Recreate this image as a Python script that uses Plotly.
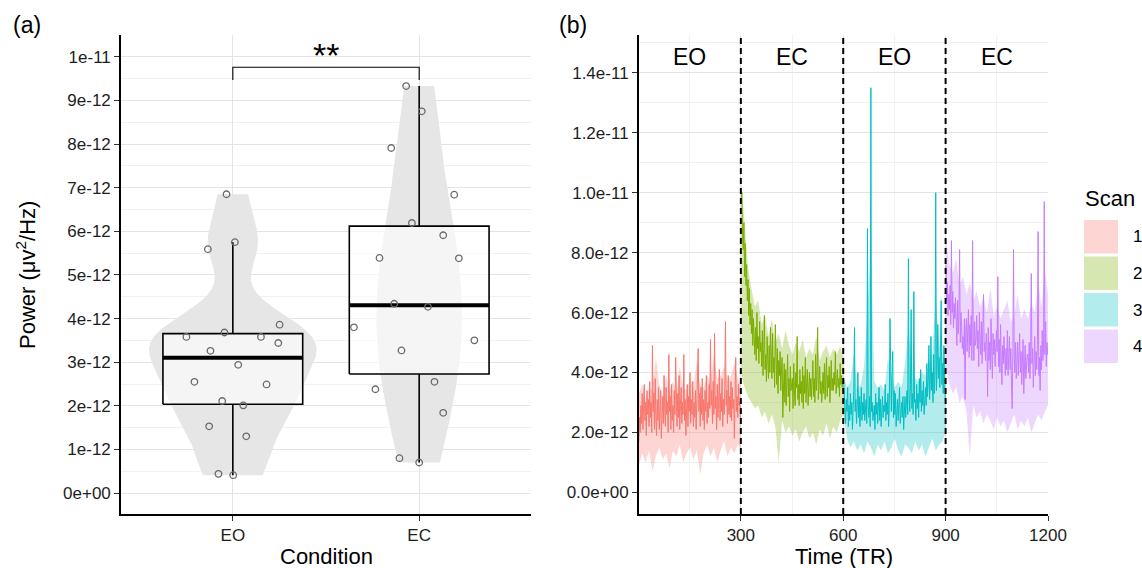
import numpy as np
import plotly.graph_objects as go

W, H = 1142, 568
E12 = 1e-12
FONT = "Liberation Sans, Arial, Helvetica, sans-serif"

# ---------------- Panel (a) data (power in units of 1e-12 uV^2/Hz) ----------------
conditions = ["EO", "EC"]
eo_power = [6.85, 5.75, 5.59, 3.86, 3.68, 3.58, 3.58, 3.44, 3.26, 2.94, 2.55, 2.49,
            2.11, 2.01, 1.53, 1.30, 0.44, 0.41]
eo_jitter = [-0.034, 0.011, -0.134, 0.251, -0.045, -0.249, 0.151, 0.244, -0.12, 0.029,
             -0.206, 0.181, -0.057, 0.056, -0.127, 0.072, -0.077, 0.002]
ec_power = [9.33, 8.75, 7.91, 6.84, 6.19, 5.91, 5.39, 5.38, 4.34, 4.27, 3.80, 3.50,
            3.27, 2.38, 2.55, 1.84, 0.80, 0.70]
ec_jitter = [-0.07, 0.014, -0.15, 0.188, -0.039, 0.129, -0.213, 0.213, -0.134, 0.047,
             -0.35, 0.296, -0.095, -0.235, 0.082, 0.129, -0.106, 0.0]
sig_label = "**"
bracket_y = 9.76
bracket_tip = 9.47
a_yticks = [0, 1, 2, 3, 4, 5, 6, 7, 8, 9, 10]
a_yticktext = ["0e+00", "1e-12", "2e-12", "3e-12", "4e-12", "5e-12", "6e-12",
               "7e-12", "8e-12", "9e-12", "1e-11"]

# ---------------- Panel (b) data (mean power per TR, units of 1e-12) ----------------
scans = ["1", "2", "3", "4"]
scan_colors = ["#F8766D", "#7CAE00", "#00BFC4", "#C77CFF"]
scan_conditions = ["EO", "EC", "EO", "EC"]
scan_bounds = [300, 600, 900]
tr_line = np.arange(1, 1201, 2)                 # sampled TRs for the mean lines
rib_offsets = list(range(0, 300, 10)) + [299]   # sampled TRs for the ribbons

scan1_mean = [1.7, 2.5, 2.0, 2.9, 2.3, 3.3, 2.1, 2.8, 3.6, 2.4, 3.0, 1.9, 3.4, 2.6, 3.1,
              2.2, 3.7, 2.5, 3.0, 2.0, 4.9, 2.7, 3.3, 2.1, 3.8, 2.5, 1.9, 3.1, 2.4, 3.5,
              2.1, 2.8, 3.4, 1.8, 2.6, 3.2, 2.3, 3.9, 2.7, 2.2, 3.5, 2.6, 3.0, 2.0, 4.6,
              2.7, 3.2, 2.1, 3.6, 2.4, 2.9, 2.0, 3.4, 2.6, 4.5, 2.8, 2.2, 3.3, 2.5, 3.9,
              2.1, 2.9, 3.5, 2.3, 3.0, 2.6, 4.6, 2.4, 3.1, 1.9, 2.8, 3.6, 2.2, 3.2, 2.7,
              4.0, 2.3, 3.1, 2.6, 3.7, 2.2, 3.0, 2.5, 3.4, 2.1, 2.9, 3.6, 4.8, 2.7, 3.3,
              2.2, 3.5, 2.6, 3.8, 2.4, 3.1, 2.1, 3.4, 2.7, 3.9, 2.3, 3.0, 2.5, 3.6, 2.8,
              5.1, 2.9, 3.4, 2.3, 3.7, 2.6, 5.3, 2.8, 3.2, 2.1, 3.6, 2.5, 3.0, 4.1, 2.4,
              3.3, 2.7, 3.8, 2.2, 3.1, 2.6, 3.5, 5.7, 2.9, 3.4, 2.3, 3.9, 2.6, 3.2, 2.5,
              3.7, 2.4, 3.5, 2.8, 3.1, 1.8, 3.4, 4.5, 2.7, 3.2, 2.5, 3.6, 2.9, 3.0, 2.4]
scan2_mean = [9.8, 10.0, 8.6, 8.1, 9.0, 7.2, 8.3, 6.9, 7.6, 6.4, 7.1, 5.9, 6.8, 5.6, 6.3,
              5.3, 6.1, 4.9, 5.8, 5.1, 4.6, 5.5, 4.4, 6.0, 4.8, 5.2, 4.3, 5.7, 4.7, 5.0,
              4.2, 5.4, 3.9, 4.8, 5.9, 4.1, 4.6, 3.7, 5.2, 4.4, 3.8, 4.9, 4.0, 5.5, 4.3,
              3.8, 5.3, 4.0, 4.5, 3.5, 5.6, 4.2, 3.6, 4.8, 3.3, 4.4, 3.9, 4.7, 3.4, 4.1,
              4.5, 2.5, 3.9, 4.3, 3.0, 4.1, 2.9, 3.7, 4.6, 3.2, 3.8, 2.7, 4.2, 3.4, 3.6,
              3.8, 2.8, 4.3, 3.4, 2.9, 4.0, 3.5, 5.2, 3.1, 3.6, 2.9, 4.1, 3.3, 3.7, 3.0,
              4.2, 2.8, 3.9, 3.3, 4.5, 3.0, 3.7, 4.1, 2.9, 3.5, 4.0, 3.2, 3.8, 3.1, 4.3,
              4.4, 3.2, 3.8, 3.0, 4.6, 3.4, 3.9, 5.5, 3.1, 3.6, 4.2, 3.3, 3.7, 3.0, 4.0,
              4.0, 3.3, 4.3, 3.1, 3.8, 4.5, 3.2, 3.9, 3.5, 4.2, 3.0, 3.7, 4.4, 3.4, 3.8,
              3.4, 4.0, 3.6, 4.7, 3.3, 3.9, 4.1, 3.5, 3.8, 3.2, 4.3, 3.6, 3.9, 3.5, 3.7]
scan3_mean = [3.8, 3.2, 2.6, 2.3, 3.1, 2.7, 3.5, 2.2, 2.9, 2.4, 3.3, 2.6, 3.0, 2.1, 2.8,
              3.4, 5.5, 2.7, 3.1, 2.3, 2.9, 4.0, 2.5, 3.2, 2.2, 2.8, 3.5, 2.4, 3.0, 2.6,
              3.3, 2.4, 2.8, 3.1, 2.3, 8.8, 2.9, 2.5, 3.2, 2.2, 13.5, 2.7, 3.0, 2.4, 2.8,
              2.9, 2.1, 3.3, 2.6, 3.0, 2.3, 2.8, 3.5, 2.4, 3.1, 2.2, 2.7, 3.2, 2.5, 2.9,
              2.7, 3.6, 2.4, 3.0, 2.6, 3.3, 2.2, 2.9, 5.8, 3.2, 2.7, 3.9, 4.7, 2.5, 3.4,
              2.6, 3.3, 2.2, 2.8, 3.1, 2.4, 2.9, 3.5, 2.3, 2.7, 3.0, 2.5, 3.2, 2.1, 2.8,
              3.2, 2.5, 2.9, 3.4, 2.6, 7.8, 3.1, 2.7, 3.6, 6.1, 2.8, 3.3, 2.6, 6.7, 3.0,
              3.1, 2.4, 3.6, 2.8, 3.3, 2.5, 3.8, 3.0, 4.1, 2.7, 3.4, 2.9, 3.7, 2.6, 3.2,
              3.5, 2.9, 4.3, 3.2, 3.7, 4.9, 3.1, 3.6, 5.2, 3.4, 4.0, 3.0, 4.6, 3.3, 3.9,
              10.0, 3.4, 4.2, 5.6, 3.8, 4.5, 3.5, 4.8, 6.4, 3.6, 4.3, 3.3, 4.9, 3.6, 3.1]
scan4_mean = [7.6, 6.4, 7.0, 5.9, 6.6, 6.1, 6.9, 5.6, 8.4, 6.0, 6.7, 5.5, 6.3, 5.8, 6.5,
              5.7, 4.9, 6.4, 5.3, 5.9, 8.1, 5.0, 6.0, 5.5, 4.8, 5.2, 4.6, 5.8, 3.1, 5.4,
              5.8, 4.7, 5.3, 6.1, 4.5, 5.6, 4.9, 5.9, 4.4, 8.4, 5.2, 4.4, 5.7, 4.9, 5.1,
              5.9, 4.8, 5.4, 4.2, 6.0, 5.1, 4.6, 5.7, 4.3, 5.5, 6.6, 4.7, 5.0, 4.4, 5.3,
              4.9, 3.2, 5.5, 4.4, 5.0, 4.1, 5.8, 4.5, 3.8, 5.3, 4.6, 5.1, 4.2, 4.8, 5.4,
              4.7, 7.2, 4.2, 5.1, 4.0, 5.6, 4.4, 3.6, 4.9, 4.3, 5.2, 4.5, 3.9, 4.8, 4.1,
              5.4, 3.9, 4.6, 5.2, 4.1, 4.8, 3.7, 2.8, 4.6, 8.1, 4.5, 4.0, 5.0, 3.8, 4.4,
              5.0, 3.9, 4.4, 5.3, 4.0, 4.7, 3.6, 4.2, 5.1, 3.3, 4.5, 4.9, 3.8, 4.3, 4.6,
              4.6, 4.0, 5.0, 3.8, 4.5, 7.3, 4.3, 4.8, 3.5, 4.4, 5.2, 3.9, 4.7, 4.1, 4.9,
              8.7, 3.9, 4.5, 3.4, 4.9, 4.1, 5.4, 4.4, 4.8, 9.7, 4.6, 5.7, 4.2, 5.0, 4.6]

scan1_lower = [0.9, 1.3, 1.0, 1.4, 0.7, 1.2, 1.5, 1.1, 1.3, 0.8, 1.4, 1.2, 1.6, 1.0, 1.3, 1.5,
               1.1, 1.4, 0.6, 1.3, 1.6, 1.2, 1.5, 1.0, 1.4, 1.7, 1.2, 1.5, 1.3, 1.6, 1.4]
scan1_upper = [3.3, 3.6, 3.1, 3.5, 3.4, 4.5, 3.6, 3.2, 3.9, 3.4, 3.7, 3.3, 4.2, 3.5, 3.4, 3.8,
               3.5, 4.4, 3.6, 3.5, 3.9, 3.7, 4.6, 3.8, 3.9, 4.2, 3.7, 3.9, 4.3, 3.8, 3.6]
scan2_lower = [3.9, 3.5, 3.2, 3.0, 2.8, 2.9, 2.5, 2.7, 2.3, 2.6, 2.2, 1.0, 2.4, 2.0, 2.2, 1.9,
               2.1, 1.7, 2.0, 2.2, 1.8, 2.0, 1.6, 2.1, 1.9, 2.3, 1.8, 2.2, 2.0, 2.4, 2.6]
scan2_upper = [10.5, 9.0, 7.5, 6.8, 6.2, 6.4, 5.6, 5.9, 5.2, 5.8, 5.0, 5.3, 4.8, 5.4, 4.9, 4.6,
               5.0, 4.7, 5.1, 4.5, 4.8, 4.6, 5.2, 4.4, 4.7, 4.9, 4.5, 4.8, 4.6, 4.9, 4.5]
scan3_lower = [2.6, 1.8, 1.5, 1.7, 1.4, 1.6, 1.3, 1.7, 1.5, 1.2, 1.6, 1.4, 1.7, 1.3, 1.5, 1.8,
               1.4, 1.2, 1.6, 1.5, 1.3, 1.7, 1.4, 1.6, 1.2, 1.5, 1.8, 1.4, 1.6, 1.7, 2.0]
scan3_upper = [3.9, 3.5, 3.7, 4.6, 3.4, 3.6, 4.2, 6.0, 8.5, 3.7, 3.5, 3.6, 3.4, 4.5, 3.9, 3.5,
               3.7, 3.5, 4.3, 5.5, 4.2, 3.8, 3.7, 4.0, 3.9, 4.3, 4.6, 6.5, 5.0, 4.6, 4.2]
scan4_lower = [4.2, 3.6, 3.3, 3.5, 3.0, 3.2, 2.7, 1.2, 2.9, 2.5, 2.7, 2.3, 2.6, 2.4, 2.1, 2.5,
               2.2, 2.4, 2.0, 2.3, 2.6, 2.1, 2.4, 2.2, 2.5, 2.0, 2.3, 2.6, 2.4, 2.7, 2.9]
scan4_upper = [8.5, 7.6, 7.3, 7.8, 6.9, 7.2, 6.6, 7.0, 6.4, 6.7, 6.2, 6.5, 6.0, 6.8, 5.9, 6.2,
               5.8, 6.1, 6.4, 5.7, 5.9, 6.6, 5.8, 6.1, 5.8, 6.3, 6.0, 7.0, 6.2, 7.4, 6.6]

b_yticks = [0, 2, 4, 6, 8, 10, 12, 14]
b_yticktext = ["0.0e+00", "2.0e-12", "4.0e-12", "6.0e-12", "8.0e-12", "1.0e-11", "1.2e-11", "1.4e-11"]
b_xticks = [300, 600, 900, 1200]

means = [scan1_mean, scan2_mean, scan3_mean, scan4_mean]
lowers = [scan1_lower, scan2_lower, scan3_lower, scan4_lower]
uppers = [scan1_upper, scan2_upper, scan3_upper, scan4_upper]
NPS = len(scan1_mean)  # samples per scan

VIOLIN_W = 0.9
BOX_W = 0.75


def px(x):
    return x / W


def py(y):
    return 1 - y / H


def rgba(hexc, a):
    h = hexc.lstrip("#")
    return "rgba(%d,%d,%d,%s)" % (int(h[0:2], 16), int(h[2:4], 16), int(h[4:6], 16), a)


def nrd0(v):
    v = np.asarray(v, dtype=float)
    q1, q3 = np.percentile(v, [25, 75])
    return 0.9 * min(np.std(v, ddof=1), (q3 - q1) / 1.34) * len(v) ** -0.2


def kde(v):
    """Gaussian KDE (bw.nrd0) evaluated over the data range (trimmed violin)."""
    v = np.asarray(v, dtype=float)
    bw = nrd0(v)
    g = np.linspace(v.min(), v.max(), 512)
    d = np.exp(-0.5 * ((g[:, None] - v[None, :]) / bw) ** 2).sum(axis=1)
    return g, d / (len(v) * bw * np.sqrt(2 * np.pi))


def box_stats(v):
    v = np.sort(np.asarray(v, dtype=float))
    q1, med, q3 = np.percentile(v, [25, 50, 75])
    iqr = q3 - q1
    lo = v[v >= q1 - 1.5 * iqr].min()
    hi = v[v <= q3 + 1.5 * iqr].max()
    return q1, med, q3, lo, hi


fig = go.Figure()

# ---------------- Panel (a) ----------------
groups = [(1, eo_power, eo_jitter), (2, ec_power, ec_jitter)]
dens = [kde(g[1]) for g in groups]
dmax_all = max(d.max() for _, d in dens)

# violins (scale = "area": width proportional to density, common maximum)
for (pos, vals, jit), (grid, d) in zip(groups, dens):
    hw = VIOLIN_W / 2 * d / dmax_all
    xs = np.concatenate([pos + hw, (pos - hw)[::-1]])
    ys = np.concatenate([grid, grid[::-1]]) * E12
    fig.add_trace(go.Scatter(x=xs, y=ys, fill="toself", fillcolor="#e6e6e6",
                             line=dict(width=0), mode="lines", hoverinfo="skip",
                             xaxis="x", yaxis="y", showlegend=False))

# boxes
for pos, vals, jit in groups:
    q1, med, q3, lo, hi = box_stats(vals)
    l, r = pos - BOX_W / 2, pos + BOX_W / 2
    fig.add_trace(go.Scatter(
        x=[pos, pos, None, pos, pos], y=[lo * E12, q1 * E12, None, q3 * E12, hi * E12],
        mode="lines", line=dict(color="black", width=1.6), hoverinfo="skip",
        xaxis="x", yaxis="y", showlegend=False))
    fig.add_trace(go.Scatter(
        x=[l, r, r, l, l], y=np.array([q1, q1, q3, q3, q1]) * E12,
        fill="toself", fillcolor="rgba(255,255,255,0.6)", mode="lines",
        line=dict(color="black", width=1.6), hoverinfo="skip",
        xaxis="x", yaxis="y", showlegend=False))
    fig.add_trace(go.Scatter(
        x=[l, r], y=[med * E12, med * E12], mode="lines",
        line=dict(color="black", width=4), hoverinfo="skip",
        xaxis="x", yaxis="y", showlegend=False))

# jittered points
for pos, vals, jit in groups:
    fig.add_trace(go.Scatter(
        x=pos + np.array(jit), y=np.array(vals) * E12, mode="markers",
        marker=dict(symbol="circle-open", size=6.5, color="#6a6a6a",
                    line=dict(width=1.3, color="#6a6a6a")),
        hoverinfo="skip", xaxis="x", yaxis="y", showlegend=False))

# significance bracket
fig.add_trace(go.Scatter(
    x=[1, 1, 2, 2], y=np.array([bracket_tip, bracket_y, bracket_y, bracket_tip]) * E12,
    mode="lines", line=dict(color="black", width=1.1), hoverinfo="skip",
    xaxis="x", yaxis="y", showlegend=False))

# ---------------- Panel (b) ----------------
for k in range(4):
    start = k * 300 + 1
    rx = [start + o for o in rib_offsets]
    fig.add_trace(go.Scatter(
        x=rx + rx[::-1],
        y=np.array(uppers[k] + lowers[k][::-1]) * E12,
        fill="toself", fillcolor=rgba(scan_colors[k], 0.3),
        line=dict(width=0), mode="lines", hoverinfo="skip",
        xaxis="x2", yaxis="y2", showlegend=False))
for k in range(4):
    fig.add_trace(go.Scatter(
        x=tr_line[k * NPS:(k + 1) * NPS], y=np.array(means[k]) * E12,
        mode="lines", line=dict(color=scan_colors[k], width=1),
        hoverinfo="skip", xaxis="x2", yaxis="y2", showlegend=False))

shapes = []
for b in scan_bounds:
    shapes.append(dict(type="line", xref="x2", yref="y2 domain", x0=b, x1=b, y0=0, y1=1,
                       line=dict(color="black", width=2, dash="6px,4px"), layer="above"))

annotations = []
for k in range(4):
    annotations.append(dict(x=k * 300 + 150, y=14.52 * E12, xref="x2", yref="y2",
                            text=scan_conditions[k], showarrow=False,
                            xanchor="center", yanchor="middle",
                            font=dict(size=23, color="black", family=FONT)))
annotations.append(dict(x=1.5, y=bracket_y * E12, xref="x", yref="y", text=sig_label,
                        showarrow=False, xanchor="center", yanchor="bottom", yshift=-9,
                        font=dict(size=34, color="black", family=FONT)))


def label(x, y, text, size, xanchor="center", angle=0):
    annotations.append(dict(x=px(x), y=py(y), xref="paper", yref="paper", text=text,
                            showarrow=False, xanchor=xanchor, yanchor="middle",
                            textangle=angle,
                            font=dict(size=size, color="black", family=FONT)))


label(11, 25, "(a)", 23, "left")
label(557, 25, "(b)", 23, "left")
label(326, 556, "Condition", 22)
label(843.5, 556, "Time (TR)", 22)
label(26, 275, "Power (μv<sup>2</sup>/Hz)", 22, "center", -90)
label(1083, 198, "Scan", 22, "left")
key_tops = [220, 256.5, 293, 329.5]
for k in range(4):
    t = key_tops[k]
    shapes.append(dict(type="rect", xref="paper", yref="paper",
                       x0=px(1084), x1=px(1118), y0=py(t + 33.5), y1=py(t),
                       fillcolor=rgba(scan_colors[k], 0.3), line=dict(width=0)))
    label(1131, t + 17, scans[k], 17, "left")

MAJ = "#e4e4e4"
MIN = "#f1f1f1"
axis_common = dict(showline=True, linecolor="black", linewidth=1.6, ticks="outside",
                   ticklen=5, tickwidth=1.2, tickcolor="#333333", zeroline=False,
                   showgrid=True, gridcolor=MAJ, gridwidth=1.3, automargin=False,
                   tickfont=dict(size=17, color="#1e1e1e", family=FONT))

ydom = [py(514), py(35)]
fig.update_layout(
    width=W, height=H, margin=dict(l=0, r=0, t=0, b=0, pad=0, autoexpand=False),
    paper_bgcolor="white", plot_bgcolor="white", showlegend=False,
    font=dict(family=FONT),
    shapes=shapes, annotations=annotations,
    xaxis=dict(domain=[px(121), px(531)], range=[0.4, 2.6], type="linear",
               tickmode="array", tickvals=[1, 2], ticktext=conditions, **axis_common),
    yaxis=dict(domain=ydom, range=[-0.48 * E12, 10.5 * E12], tickmode="array",
               tickvals=np.array(a_yticks) * E12, ticktext=a_yticktext,
               minor=dict(tickmode="array", tickvals=(np.arange(0, 11) + 0.5) * E12,
                          showgrid=True, gridcolor=MIN, gridwidth=1, ticks=""),
               **axis_common),
    xaxis2=dict(domain=[px(638.8), px(1048)], range=[1, 1200], anchor="y2",
                tickmode="array", tickvals=b_xticks, ticktext=[str(t) for t in b_xticks],
                minor=dict(tickmode="array", tickvals=[150, 450, 750, 1050],
                           showgrid=True, gridcolor=MIN, gridwidth=1, ticks=""),
                **axis_common),
    yaxis2=dict(domain=ydom, range=[-0.72 * E12, 15.26 * E12], anchor="x2",
                tickmode="array", tickvals=np.array(b_yticks) * E12, ticktext=b_yticktext,
                minor=dict(tickmode="array", tickvals=(np.arange(1, 16, 2)) * E12,
                           showgrid=True, gridcolor=MIN, gridwidth=1, ticks=""),
                **axis_common),
)

fig.write_html("out.html", config={"displayModeBar": False},
               post_script="document.body.style.margin='0';document.body.style.overflow='hidden';")
